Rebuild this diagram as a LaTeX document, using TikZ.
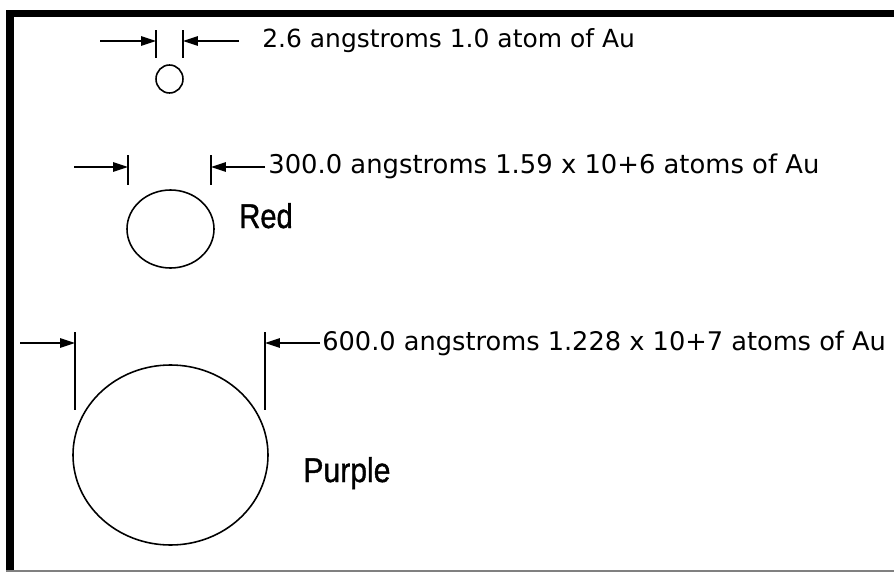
\documentclass[tikz,border=0pt]{standalone}
\usepackage{fontspec}
\usepackage{graphicx}
\setmainfont{DejaVu Sans}
\newfontfamily\labelfont[FakeBold=1.2]{Liberation Sans}
\usetikzlibrary{arrows.meta}

\tikzset{
  dimline/.style={line width=0.7pt,-{Triangle[length=3mm,width=1.9mm]}},
  extline/.style={line width=0.8pt},
  sizetext/.style={font=\fontsize{14.2}{17}\selectfont,anchor=base west,inner sep=0pt},
  colourtext/.style={font=\labelfont\fontsize{19.5}{23}\selectfont,anchor=base west,inner sep=0pt},
  particle/.style={line width=0.9pt}
}

\begin{document}
\begin{tikzpicture}[x=0.02cm,y=-0.02cm]
\useasboundingbox (0,0) rectangle (894,572);

% Frame
\fill[black] (6,10) rectangle (894,17);
\fill[black] (6,10) rectangle (14,572);
\draw[gray,line width=1pt] (6,571) -- (894,571);

% Extension lines and arrows, one row per particle
\foreach \n/\ya/\ytop/\ybot/\xs/\xl/\xr/\xe in {
  a/41/30/58/100/156/183/239,
  b/167/155/185/74/128/211/265,
  c/343/332/410/20/75/265/320}{
  \coordinate (\n-s) at (\xs,\ya);
  \coordinate (\n-l) at (\xl,\ya);
  \coordinate (\n-r) at (\xr,\ya);
  \coordinate (\n-e) at (\xe,\ya);
  \draw[extline] (\xl,\ytop) -- (\xl,\ybot);
  \draw[extline] (\xr,\ytop) -- (\xr,\ybot);
  \draw[dimline] (\n-s) -- (\n-l);
  \draw[dimline] (\n-e) -- (\n-r);
}

% Particles
\draw[particle] (169.5,79) ellipse (13.5 and 14);
\draw[particle] (170.5,229) ellipse (43.5 and 39);
\draw[particle] (170.5,455) ellipse (97.5 and 90);

% Sizes
\node[sizetext] (size-a) at (262,47) {2.6 angstroms 1.0 atom of Au};
\node[sizetext,font=\fontsize{14.7}{17}\selectfont] (size-b) at (268,173) {300.0 angstroms 1.59 x 10+6 atoms of Au};
\node[sizetext,font=\fontsize{14.6}{17}\selectfont] (size-c) at (322,350) {600.0 angstroms 1.228 x 10+7 atoms of Au};

% Colours
\node[colourtext] (red) at (239,228) {\scalebox{0.85}[1]{Red}};
\node[colourtext] (purple) at (303,482) {\scalebox{0.88}[1]{Purple}};

\end{tikzpicture}
\end{document}
